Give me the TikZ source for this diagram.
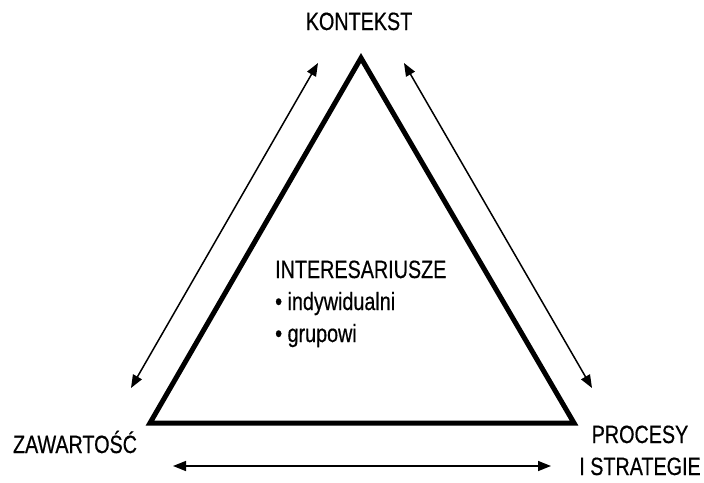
\documentclass[tikz,border=0pt]{standalone}
\usepackage{fontspec}
\setmainfont{Liberation Sans}[FakeStretch=0.79,FakeBold=0.5]
\usetikzlibrary{arrows.meta}
\begin{document}
\begin{tikzpicture}[x=1pt,y=-1pt,
  lbl/.style={font=\fontsize{25}{32}\selectfont, inner sep=0pt, text=black},
  dbl/.style={line width=1.5pt, {Triangle[length=13pt,width=10pt]}-{Triangle[length=13pt,width=10pt]}},
  tri/.style={line width=5pt, line join=miter}]
\useasboundingbox (0,0) rectangle (704,482);
\coordinate (A) at (361,58);
\coordinate (B) at (150,423);
\coordinate (C) at (574,423);
\draw[tri] (A) -- (B) -- (C) -- cycle;
\coordinate (l1) at (131,388);
\coordinate (l2) at (318,63);
\coordinate (r1) at (404,63);
\coordinate (r2) at (592,388);
\coordinate (b1) at (173,466);
\coordinate (b2) at (551,466);
\draw[dbl] (l1) -- (l2);
\draw[dbl] (r1) -- (r2);
\draw[dbl] (b1) -- (b2);
\node[lbl, anchor=base] (kon) at (359,30) {KONTEKST};
\node[lbl, anchor=base] (zaw) at (75,453) {ZAWARTOŚĆ};
\node[lbl, anchor=base, align=center] (pro) at (640,475) {PROCESY\\I STRATEGIE};
\node[lbl, anchor=base west, align=left] (int) at (275,342) {INTERESARIUSZE\\• indywidualni\\• grupowi};
\end{tikzpicture}
\end{document}
